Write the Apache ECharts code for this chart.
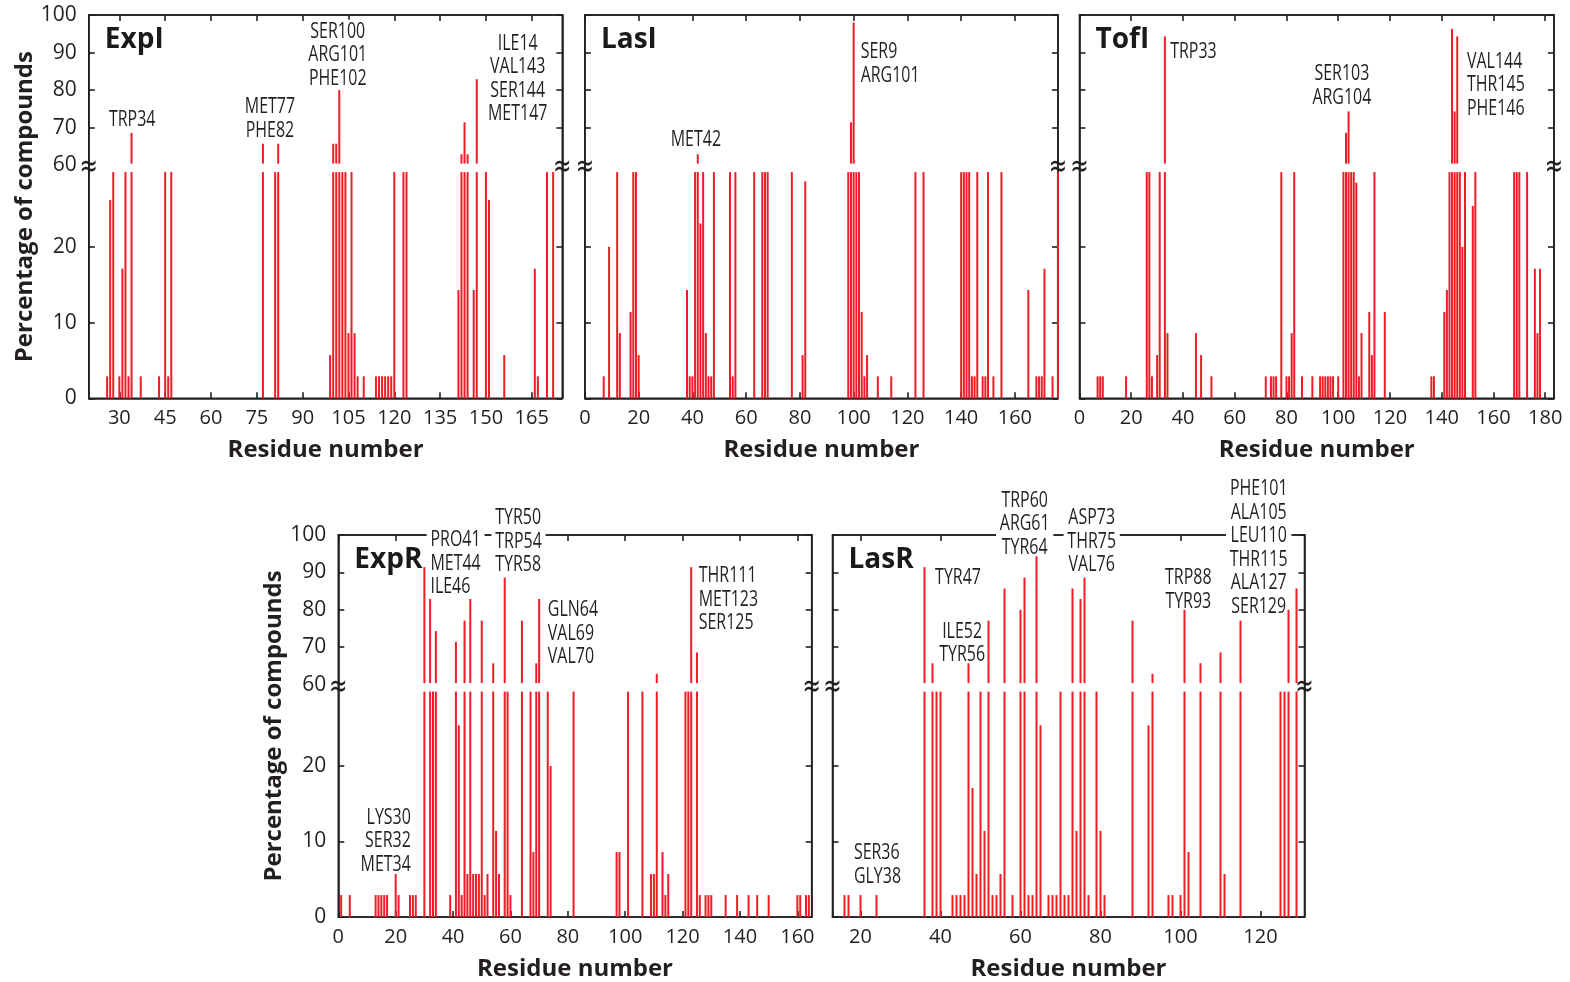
<!DOCTYPE html>
<html>
<head>
<meta charset="utf-8">
<script src="https://cdn.jsdelivr.net/npm/echarts@6/dist/echarts.min.js"></script>
<style>
  html, body { margin: 0; padding: 0; background: #fff; }
  #chart { width: 1570px; height: 982px; }
</style>
</head>
<body>
<div id="chart"></div>
<script>
// ---- data: residue numbers and % of compounds contacting each residue ----
const expIResidues = [26,27,28,30,31,32,33,34,37,43,45,46,47,77,81,82,99,100,101,102,103,104,105,106,107,108,110,114,115,116,117,118,119,120,123,124,141,142,143,144,146,147,150,151,156,166,167,170,172];
const expIValues   = [2.9,42.9,60,2.9,17.1,60,2.9,68.6,2.9,2.9,60,2.9,60,65.7,60,65.7,5.7,65.7,65.7,80,60,60,8.6,60,8.6,2.9,2.9,2.9,2.9,2.9,2.9,2.9,2.9,60,60,60,14.3,62.9,71.4,62.9,14.3,82.9,60,42.9,5.7,17.1,2.9,60,60];

const lasIResidues = [7,9,12,13,17,18,19,20,38,39,40,41,42,43,44,45,46,47,48,54,55,56,63,66,67,68,77,81,82,98,99,100,101,102,103,104,105,109,114,123,126,140,141,142,143,144,145,146,148,149,150,152,155,165,168,169,170,171,174,176];
const lasIValues   = [2.9,20,60,8.6,11.4,60,60,5.7,14.3,2.9,2.9,60,62.9,31.4,60,8.6,2.9,2.9,60,60,2.9,60,60,60,60,60,60,5.7,52,60,71.4,98,60,60,11.4,2.9,5.7,2.9,2.9,60,60,60,60,60,60,2.9,2.9,60,2.9,2.9,60,2.9,60,14.3,2.9,2.9,2.9,17.1,2.9,60];

const tofIResidues = [7,8,9,18,26,27,28,30,31,33,34,45,47,51,72,74,75,76,78,80,81,82,83,86,90,93,94,95,96,97,98,100,102,103,104,105,106,107,108,109,112,113,114,118,136,137,141,142,143,144,145,146,147,148,149,152,153,168,169,170,173,176,177,178];
const tofIValues   = [2.9,2.9,2.9,2.9,60,60,2.9,5.7,60,94.3,8.6,8.6,5.7,2.9,2.9,2.9,2.9,2.9,60,2.9,2.9,8.6,60,2.9,2.9,2.9,2.9,2.9,2.9,2.9,2.9,2.9,60,68.6,74.3,60,60,51.4,2.9,8.6,11.4,5.7,60,11.4,2.9,2.9,11.4,14.3,60,96.3,74.3,94.3,60,20,60,40,60,60,60,60,60,17.1,8.6,17.1];

const expRResidues = [1,4,13,14,15,16,17,20,21,25,26,27,30,32,33,34,39,41,42,43,44,45,46,47,48,49,50,51,52,54,55,56,58,59,60,64,67,68,69,70,73,74,82,97,98,101,106,109,110,111,113,114,115,121,122,123,125,126,128,129,130,135,139,143,146,150,160,161,163,164];
const expRValues   = [2.9,2.9,2.9,2.9,2.9,2.9,2.9,5.7,2.9,2.9,2.9,2.9,91.4,82.9,60,74.3,2.9,71.4,40,2.9,77.1,5.7,82.9,5.7,5.7,5.7,77.1,2.9,5.7,65.7,11.4,5.7,88.6,60,2.9,77.1,60,8.6,65.7,82.9,60,20,60,8.6,8.6,60,60,5.7,5.7,62.9,8.6,2.9,5.7,60,60,91.4,68.6,2.9,2.9,2.9,2.9,2.9,2.9,2.9,2.9,2.9,2.9,2.9,2.9,2.9];

const lasRResidues = [16,17,20,24,36,38,39,40,43,44,45,46,47,48,49,50,51,52,53,54,55,56,58,60,61,62,63,64,65,67,68,69,70,71,72,73,74,75,76,77,79,80,81,88,92,93,97,98,100,101,102,105,110,111,115,125,126,127,129];
const lasRValues   = [2.9,2.9,2.9,2.9,91.4,65.7,60,60,2.9,2.9,2.9,2.9,65.7,17.1,5.7,60,11.4,77.1,2.9,2.9,5.7,85.7,2.9,80,88.6,2.9,2.9,94.3,40,2.9,2.9,2.9,60,2.9,2.9,85.7,11.4,82.9,88.6,2.9,60,11.4,2.9,77.1,40,62.9,2.9,2.9,2.9,80,8.6,65.7,68.6,5.7,77.1,60,60,80,85.7];

// ---- tick labels ----
const percentTicks = [0, 10, 20, 60, 70, 80, 90, 100];
const expITicks = [30, 45, 60, 75, 90, 105, 120, 135, 150, 165];
const lasITicks = [0, 20, 40, 60, 80, 100, 120, 140, 160];
const tofITicks = [0, 20, 40, 60, 80, 100, 120, 140, 160, 180];
const expRTicks = [0, 20, 40, 60, 80, 100, 120, 140, 160];
const lasRTicks = [20, 40, 60, 80, 100, 120];

// ---- residue annotations ----
const expILabels = [['TRP34'], ['MET77', 'PHE82'], ['SER100', 'ARG101', 'PHE102'], ['ILE14', 'VAL143', 'SER144', 'MET147']];
const lasILabels = [['MET42'], ['SER9', 'ARG101']];
const tofILabels = [['TRP33'], ['SER103', 'ARG104'], ['VAL144', 'THR145', 'PHE146']];
const expRLabels = [['LYS30', 'SER32', 'MET34'], ['PRO41', 'MET44', 'ILE46'], ['TYR50', 'TRP54', 'TYR58'], ['GLN64', 'VAL69', 'VAL70'], ['THR111', 'MET123', 'SER125']];
const lasRLabels = [['SER36', 'GLY38'], ['TYR47'], ['ILE52', 'TYR56'], ['TRP60', 'ARG61', 'TYR64'], ['ASP73', 'THR75', 'VAL76'], ['TRP88', 'TYR93'], ['PHE101', 'ALA105', 'LEU110', 'THR115', 'ALA127', 'SER129']];

// label anchors: [residue, display height, text alignment]
const expINotePos = [[34.2, 278, 'center'], [79.3, 279, 'center'], [101.5, 343, 'center'], [160.4, 319, 'center']];
const lasINotePos = [[41.3, 258, 'center'], [101.2, 334, 'left']];
const tofINotePos = [[33.6, 346, 'left'], [101.4, 312, 'center'], [148.3, 313, 'left']];
const expRNotePos = [[26.6, 76, 'right'], [30.8, 354, 'left'], [53.4, 376, 'left'], [71.7, 284, 'left'], [124.3, 318, 'left']];
const lasRNotePos = [[17.4, 52, 'left'], [37.7, 340, 'left'], [45.4, 274, 'center'], [61.05, 394, 'center'], [77.8, 376, 'center'], [101.95, 328, 'center'], [119.55, 370, 'center']];

// ---- broken percentage scale: 0-20 linear, 20-60 compressed, 60-100 above the break ----
const Y_MAX = 383;
function toDisplay(v) {
  if (v <= 20) return v * 7.57;
  if (v <= 60) return 151.4 + (v - 20) * 2.04;
  return 233 + (v - 60) * 3.75;
}
const GAP_LO = 226, GAP_HI = 234.5, GAP_MID = (GAP_LO + GAP_HI) / 2;

const INK = '#231f20';
const RED = '#ee1c25';
const BAR_W = 2;
const NOTE_FONT = 21, NOTE_SCALE = 0.76;

const panels = [
  { title: 'ExpI', res: expIResidues, val: expIValues, xmin: 20, xmax: 175, ticks: expITicks, labels: expILabels, pos: expINotePos,
    grid: { left: 88.8, top: 15, width: 473.5, height: 383.3 }, yLabels: true },
  { title: 'LasI', res: lasIResidues, val: lasIValues, xmin: 0, xmax: 176, ticks: lasITicks, labels: lasILabels, pos: lasINotePos,
    grid: { left: 584.9, top: 15, width: 473, height: 383.3 }, yLabels: false },
  { title: 'TofI', res: tofIResidues, val: tofIValues, xmin: 0, xmax: 183.4, ticks: tofITicks, labels: tofILabels, pos: tofINotePos,
    grid: { left: 1079.5, top: 15, width: 474.5, height: 383.3 }, yLabels: false },
  { title: 'ExpR', res: expRResidues, val: expRValues, xmin: 0, xmax: 165, ticks: expRTicks, labels: expRLabels, pos: expRNotePos,
    grid: { left: 338.3, top: 535, width: 473.4, height: 383.3 }, yLabels: true },
  { title: 'LasR', res: lasRResidues, val: lasRValues, xmin: 13, xmax: 131, ticks: lasRTicks, labels: lasRLabels, pos: lasRNotePos,
    grid: { left: 832.5, top: 535, width: 472, height: 383.3 }, yLabels: false }
];

const LINE_W = 1.6;
const tickStyle = { show: true, inside: true, length: 6, lineStyle: { color: INK, width: LINE_W } };
const labelFont = { fontFamily: 'Open Sans', color: INK };
const nameFont = { fontFamily: 'Open Sans', fontWeight: 'bold', fontSize: 24, color: INK };

const yLabelValues = percentTicks.map(toDisplay);
const yTickValues = percentTicks.filter(t => t !== 60).map(toDisplay);
function yLabel(val) {
  const t = percentTicks.find(p => Math.abs(toDisplay(p) - val) < 0.01);
  return t === undefined ? '' : String(t);
}

const grids = [], xAxes = [], yAxes = [], series = [], titles = [];

function renderBar(params, api) {
  const r = api.value(0), d = api.value(1);
  const base = api.coord([r, 0]);
  const lowTop = api.coord([r, Math.min(d, GAP_LO)]);
  const children = [{
    type: 'rect',
    shape: { x: base[0] - BAR_W / 2, y: lowTop[1], width: BAR_W, height: base[1] - lowTop[1] },
    style: { fill: RED }
  }];
  if (d > GAP_HI) {
    const hiBase = api.coord([r, GAP_HI]);
    const top = api.coord([r, d]);
    children.push({
      type: 'rect',
      shape: { x: base[0] - BAR_W / 2, y: top[1], width: BAR_W, height: hiBase[1] - top[1] },
      style: { fill: RED }
    });
  }
  return { type: 'group', children };
}

function renderBreak(params, api) {
  const p = api.coord([api.value(0), api.value(1)]);
  return {
    type: 'text', x: p[0], y: p[1], scaleY: 1.45,
    style: { text: '\u2248', align: 'center', verticalAlign: 'middle', fontFamily: 'DejaVu Sans', fontSize: 22, fill: INK }
  };
}

function makeNoteRenderer(labels, pos) {
  return function (params, api) {
    const i = params.dataIndex;
    const p = api.coord([api.value(0), api.value(1)]);
    return {
      type: 'text', x: p[0], y: p[1], scaleX: NOTE_SCALE,
      style: {
        text: labels[i].join('\n'), align: pos[i][2], verticalAlign: 'middle',
        fontFamily: 'Open Sans', fontSize: NOTE_FONT, lineHeight: 23.5, fill: INK,
        backgroundColor: '#fff', padding: [0, 5]
      }
    };
  };
}

panels.forEach((p, gi) => {
  // frame of the panel
  grids.push(Object.assign({ containLabel: false, show: true, borderColor: INK, borderWidth: LINE_W, backgroundColor: 'transparent' }, p.grid));
  const xBase = { gridIndex: gi, type: 'value', min: p.xmin, max: p.xmax, splitLine: { show: false },
    axisLine: { show: true, onZero: false, lineStyle: { color: INK, width: LINE_W } } };
  xAxes.push(Object.assign({}, xBase, {
    position: 'bottom',
    axisTick: Object.assign({ customValues: p.ticks }, tickStyle),
    axisLabel: Object.assign({ show: true, customValues: p.ticks, fontSize: 20, margin: 8, padding: [2, 0, 0, 0] }, labelFont),
    name: 'Residue number', nameLocation: 'middle', nameGap: 40, nameTextStyle: nameFont
  }));
  xAxes.push(Object.assign({}, xBase, {
    position: 'top',
    axisTick: Object.assign({ customValues: p.ticks }, tickStyle),
    axisLabel: { show: false }
  }));
  const yBase = { gridIndex: gi, type: 'value', min: 0, max: Y_MAX, splitLine: { show: false },
    axisLine: { show: true, onZero: false, lineStyle: { color: INK, width: LINE_W } } };
  yAxes.push(Object.assign({}, yBase, {
    position: 'left',
    axisTick: Object.assign({ customValues: yTickValues }, tickStyle),
    axisLabel: Object.assign({ show: p.yLabels, customValues: yLabelValues, fontSize: 21, margin: 12, padding: [4, 0, 0, 0], formatter: yLabel }, labelFont),
    name: p.yLabels ? 'Percentage of compounds' : '', nameLocation: 'middle', nameGap: 50, nameRotate: 90, nameTextStyle: nameFont
  }));
  yAxes.push(Object.assign({}, yBase, {
    position: 'right',
    axisTick: Object.assign({ customValues: yTickValues }, tickStyle),
    axisLabel: { show: false }
  }));

  const xi = gi * 2, yi = gi * 2;
  series.push({
    type: 'custom', name: p.title + ' notes', xAxisIndex: xi, yAxisIndex: yi, z: 1, clip: false, silent: true,
    data: p.pos.map(q => [q[0], q[1]]), encode: { x: 0, y: 1 },
    renderItem: makeNoteRenderer(p.labels, p.pos)
  });
  series.push({
    type: 'custom', name: p.title, xAxisIndex: xi, yAxisIndex: yi, z: 2, clip: false, silent: true,
    data: p.res.map((r, i) => [r, toDisplay(p.val[i])]), encode: { x: 0, y: 1 },
    renderItem: renderBar
  });
  series.push({
    type: 'custom', name: p.title + ' break', xAxisIndex: xi, yAxisIndex: yi, z: 3, clip: false, silent: true,
    data: [[p.xmin, GAP_MID], [p.xmax, GAP_MID]], encode: { x: 0, y: 1 },
    renderItem: renderBreak
  });

  titles.push({
    text: p.title, left: p.grid.left + 16, top: p.grid.top + 11, padding: 0,
    textStyle: { fontFamily: 'Open Sans', fontWeight: 'bold', fontSize: 28, color: '#1a1a1a' }
  });
});

const chart = echarts.init(document.getElementById('chart'), null, { renderer: 'canvas' });
chart.setOption({
  backgroundColor: '#fff',
  animation: false,
  title: titles,
  grid: grids,
  xAxis: xAxes,
  yAxis: yAxes,
  series: series
});
</script>
</body>
</html>
